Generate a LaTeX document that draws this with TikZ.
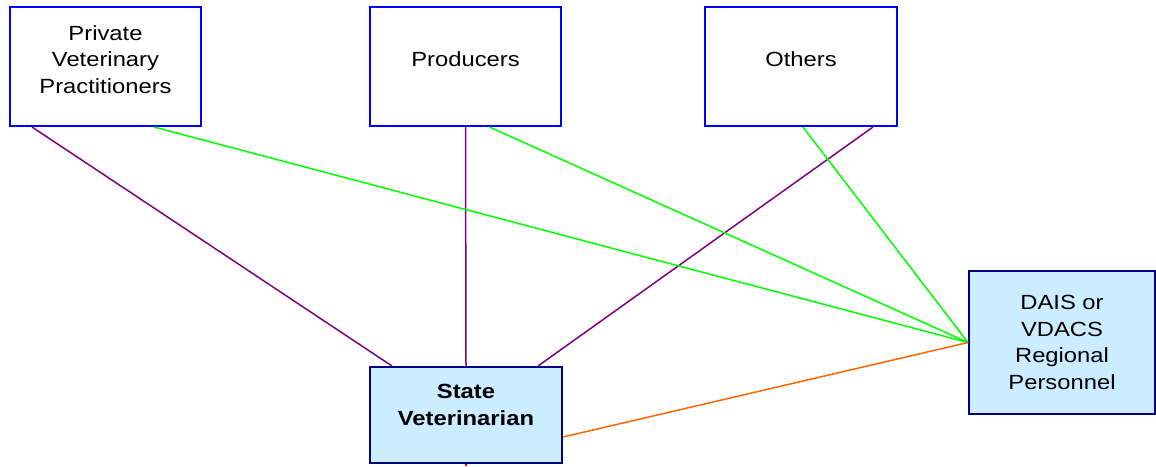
\documentclass[tikz,border=0pt]{standalone}
\usepackage{fontspec}
\setmainfont{Liberation Sans}[FakeStretch=1.16]
\definecolor{cajaazul}{RGB}{0,0,255}
\definecolor{marino}{RGB}{0,0,128}
\definecolor{celeste}{RGB}{204,236,255}
\definecolor{morado}{RGB}{128,0,128}
\definecolor{verde}{RGB}{0,255,0}
\definecolor{naranja}{RGB}{255,102,0}
\tikzset{
  arriba/.style={draw=cajaazul,line width=2pt,fill=white,align=center,minimum width=191pt,minimum height=119pt,inner sep=0pt,font=\fontsize{20.5}{26.5}\selectfont,text depth=14pt},
  abajo/.style={draw=marino,line width=2pt,fill=celeste,align=center,inner sep=0pt,font=\fontsize{20.5}{26.5}\selectfont},
  linea/.style={line width=1.5pt}
}
\begin{document}
\begin{tikzpicture}[x=1pt,y=-1pt]
\useasboundingbox (0,0) rectangle (1156,466);
% Las cajas de arriba
\node[arriba] (pvp) at (105.5,66.5) {Private\\Veterinary\\Practitioners};
\node[arriba] (pro) at (465.5,66.5) {Producers};
\node[arriba,minimum width=192pt] (oth) at (801,66.5) {Others};
% Las cajas de abajo
\node[abajo,minimum width=192pt,minimum height=96pt,text depth=20pt,font=\fontsize{20.5}{26.5}\selectfont\bfseries] (sv) at (466,415) {State\\Veterinarian};
\node[abajo,minimum width=186pt,minimum height=143pt] (dais) at (1062,342.5) {DAIS or\\VDACS\\Regional\\Personnel};
\coordinate (fondo) at (466,466);
% Lineas moradas hacia el veterinario
\draw[linea,morado] ([xshift=23pt]pvp.south west) -- ([xshift=23pt]sv.north west);
\draw[linea,morado] (pro.south) -- (sv.north);
\draw[linea,morado] ([xshift=72pt]oth.south) -- ([xshift=72pt]sv.north);
% Lineas verdes hacia DAIS
\draw[linea,verde] ([xshift=145pt]pvp.south west) -- (dais.west);
\draw[linea,verde] ([xshift=24pt]pro.south) -- (dais.west);
\draw[linea,verde] ([xshift=2pt]oth.south) -- (dais.west);
\draw[linea,naranja] ([yshift=-22pt]sv.east) -- (dais.west);
\draw[linea,red] (sv.south) -- (fondo);
\end{tikzpicture}
\end{document}
